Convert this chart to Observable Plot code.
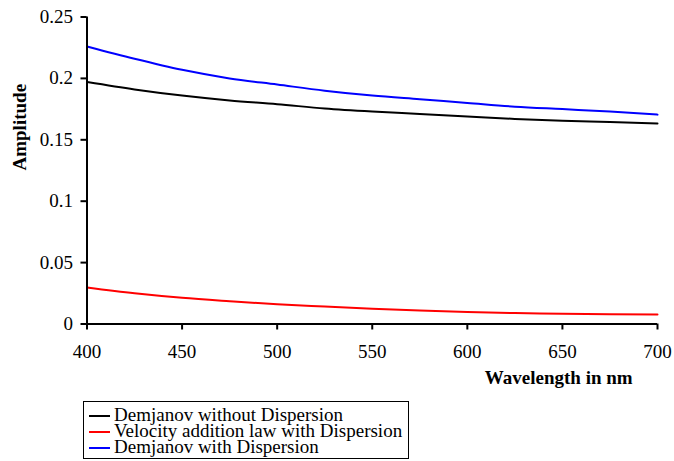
<!DOCTYPE html>
<html>
<head>
<meta charset="utf-8">
<script src="https://cdn.jsdelivr.net/npm/d3@7"></script>
<script src="https://cdn.jsdelivr.net/npm/@observablehq/plot@0.6"></script>
<style>
  html, body { margin: 0; padding: 0; background: #fff; }
  body { width: 674px; height: 461px; position: relative; overflow: hidden; font-family: 'Liberation Serif', 'Times New Roman', serif; }
  #legend { position: absolute; left: 83px; top: 401px; width: 326px; height: 58px; box-sizing: border-box; border: 1px solid #000; padding: 5px 0 0 0; font-size: 19px; line-height: 16px; color: #000; background: #fff; font-family: 'Liberation Serif', 'Times New Roman', serif; }
  #legend .row { display: flex; align-items: center; white-space: nowrap; height: 16px; }
  #legend .sw { display: inline-block; width: 21px; height: 2px; margin: 2px 4px 0 5px; }
</style>
</head>
<body>
<div id="chart"></div>
<div id="legend"></div>
<script>
const wavelengths = [400, 425, 450, 475, 500, 525, 550, 575, 600, 625, 650, 675, 700];
const demjanovNoDisp = [0.197, 0.191, 0.186, 0.182, 0.179, 0.1755, 0.173, 0.171, 0.169, 0.167, 0.1655, 0.1645, 0.1633];
const velocityAddDisp = [0.0297, 0.025, 0.0213, 0.0185, 0.016, 0.0142, 0.0125, 0.011, 0.0098, 0.0089, 0.0084, 0.008, 0.0077];
const demjanovDisp = [0.226, 0.216, 0.207, 0.2, 0.195, 0.19, 0.186, 0.183, 0.18, 0.177, 0.175, 0.173, 0.1705];
const seriesNames = ["Demjanov without Dispersion", "Velocity addition law with Dispersion", "Demjanov with Dispersion"];
const seriesColors = ["#000000", "#ff0000", "#0000ff"];
const xTicks = [400, 450, 500, 550, 600, 650, 700];
const yTicks = [0, 0.05, 0.1, 0.15, 0.2, 0.25];

const seriesValues = [demjanovNoDisp, velocityAddDisp, demjanovDisp];
const rows = [];
seriesValues.forEach((vals, i) => vals.forEach((v, j) => rows.push({series: seriesNames[i], x: wavelengths[j], y: v})));

const font = "'Liberation Serif', 'Times New Roman', serif";
const chart = Plot.plot({
  width: 674,
  height: 395,
  marginTop: 16.5,
  marginBottom: 71.5,
  marginLeft: 86.5,
  marginRight: 17,
  style: {fontFamily: font, fontSize: "19px", color: "#000", background: "#fff"},
  x: {domain: [400, 700], ticks: xTicks, label: null},
  y: {domain: [0, 0.25], ticks: yTicks, label: null},
  color: {domain: seriesNames, range: seriesColors},
  marks: [
    Plot.line(rows, {x: "x", y: "y", z: "series", stroke: "series", strokeWidth: 2, curve: "monotone-x"}),
    Plot.ruleY([0], {stroke: "#000", strokeWidth: 2}),
    Plot.ruleX([400], {stroke: "#000", strokeWidth: 2}),
    Plot.axisX({ticks: xTicks, tickSize: 6, tickPadding: 14, strokeWidth: 2, tickFormat: d => String(d), label: null, fontSize: 19}),
    Plot.axisY({ticks: yTicks, tickSize: 6, tickPadding: 8, strokeWidth: 2, tickFormat: d => String(d), label: null, fontSize: 19}),
    Plot.text(["Wavelength in nm"], {frameAnchor: "bottom", dx: 186.5, dy: 59.5, fontWeight: "bold", fontSize: 19, fill: "#000"}),
    Plot.text(["Amplitude"], {frameAnchor: "left", dx: -67.5, dy: 0, rotate: -90, fontWeight: "bold", fontSize: 19, fill: "#000"})
  ]
});
document.getElementById("chart").appendChild(chart);

const legend = document.getElementById("legend");
seriesNames.forEach((name, i) => {
  const row = document.createElement("div");
  row.className = "row";
  const sw = document.createElement("span");
  sw.className = "sw";
  sw.style.background = seriesColors[i];
  row.appendChild(sw);
  row.appendChild(document.createTextNode(name));
  legend.appendChild(row);
});
</script>
</body>
</html>
